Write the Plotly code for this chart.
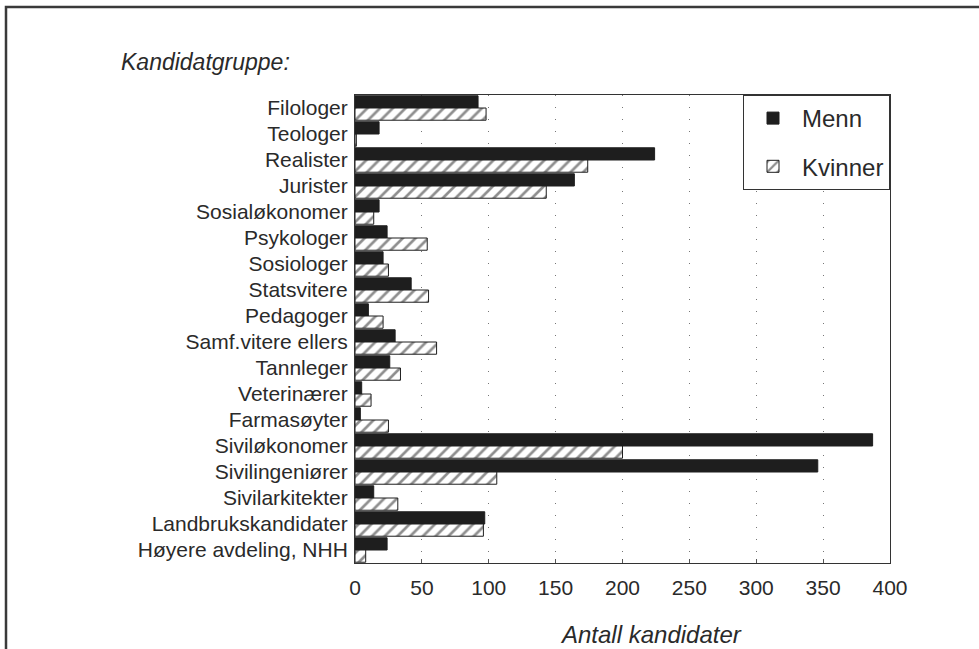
import plotly.graph_objects as go

categories = [
    "Filologer", "Teologer", "Realister", "Jurister", "Sosialøkonomer",
    "Psykologer", "Sosiologer", "Statsvitere", "Pedagoger", "Samf.vitere ellers",
    "Tannleger", "Veterinærer", "Farmasøyter", "Siviløkonomer", "Sivilingeniører",
    "Sivilarkitekter", "Landbrukskandidater", "Høyere avdeling, NHH",
]
menn = [92, 18, 224, 164, 18, 24, 21, 42, 10, 30, 26, 5, 4, 387, 346, 14, 97, 24]
kvinner = [98, 1, 174, 143, 14, 54, 25, 55, 21, 61, 34, 12, 25, 200, 106, 32, 96, 8]
x_ticks = [0, 50, 100, 150, 200, 250, 300, 350, 400]

W, H = 979, 649
L, R, T, B = 355, 89, 95, 86
pw, ph = W - L - R, H - T - B

def px_x(v):
    return (v - L) / pw

def px_y(v):
    return (H - B - v) / ph

FONT = "Liberation Sans, Arial, sans-serif"
TXT = "#2a2a2a"

fig = go.Figure()
fig.add_trace(go.Bar(
    y=categories, x=menn, orientation="h", name="Menn", legendgroup="m",
    marker=dict(color="#1e1e1e", line=dict(color="#1e1e1e", width=1)),
))
fig.add_trace(go.Bar(
    y=categories, x=kvinner, orientation="h", name="Kvinner", legendgroup="k",
    marker=dict(color="white", line=dict(color="#1e1e1e", width=1),
                pattern=dict(shape="/", fgcolor="#1e1e1e", bgcolor="white",
                             size=9, solidity=0.3)),
))

fig.update_layout(
    width=W, height=H,
    margin=dict(l=L, r=R, t=T, b=B, pad=0),
    paper_bgcolor="white", plot_bgcolor="white",
    barmode="group", bargap=0.06, bargroupgap=0.0,
    font=dict(family=FONT, color=TXT, size=21),
    showlegend=True,
    legend=dict(
        x=1, y=1, xanchor="right", yanchor="top",
        bordercolor="#333", borderwidth=1, bgcolor="white",
        font=dict(size=24, family=FONT, color=TXT),
        itemwidth=48, tracegroupgap=14,
    ),
    xaxis=dict(
        range=[0, 400], tickvals=x_ticks, ticktext=[str(v) for v in x_ticks],
        showgrid=True, gridcolor="#777", griddash="1px,11px", gridwidth=1,
        showline=True, linecolor="#333", linewidth=1, mirror=True,
        ticks="inside", ticklen=4, tickcolor="#555",
        zeroline=False, tickfont=dict(size=21, color=TXT),
        ticklabelstandoff=6,
        fixedrange=True,
    ),
    yaxis=dict(
        autorange="reversed", showgrid=False,
        showline=True, linecolor="#333", linewidth=1, mirror=True,
        ticks="", ticklabelstandoff=2,
        tickfont=dict(size=21, color=TXT),
    ),
    annotations=[
        dict(text="Kandidatgruppe:", xref="paper", yref="paper",
             x=px_x(119), y=px_y(62), xanchor="left", yanchor="middle",
             showarrow=False, font=dict(size=23, style="italic", color=TXT)),
        dict(text="Antall kandidater", xref="paper", yref="paper",
             x=px_x(558), y=px_y(634), xanchor="left", yanchor="middle",
             showarrow=False, font=dict(size=24, style="italic", color=TXT)),
    ],
    shapes=[
        dict(type="rect", xref="paper", yref="paper",
             x0=px_x(6), x1=px_x(W + 10), y0=px_y(H + 10), y1=px_y(7),
             line=dict(color="#3a3a3a", width=2.5), fillcolor="rgba(0,0,0,0)",
             layer="below"),
    ],
)

fig.write_html("out.html",
               config={"displayModeBar": False},
               post_script="document.body.style.margin='0';document.body.style.overflow='hidden';")
